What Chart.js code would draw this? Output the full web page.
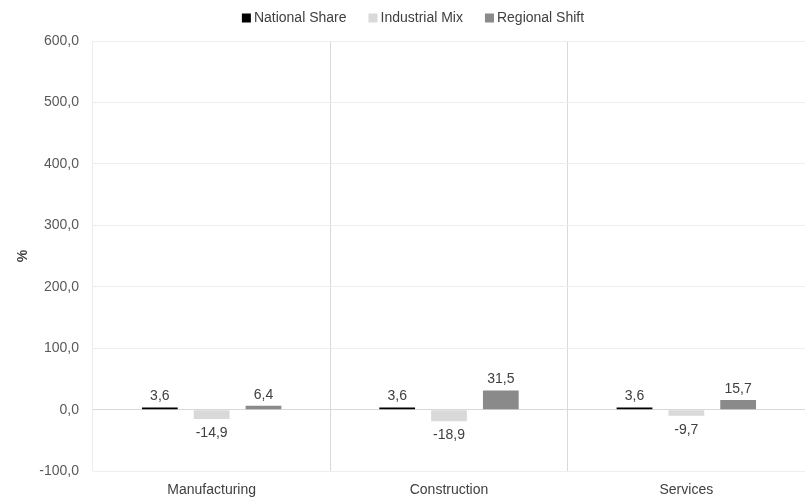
<!DOCTYPE html>
<html>
<head>
<meta charset="utf-8">
<script src="https://cdn.jsdelivr.net/npm/chart.js@4.4.1/dist/chart.umd.min.js"></script>
<style>
html,body{margin:0;padding:0;background:#fff;}
#wrap{width:805px;height:503px;position:relative;}
</style>
</head>
<body>
<div id="wrap"><canvas id="c"></canvas></div>
<script>
const categories = ["Manufacturing", "Construction", "Services"];
const nationalShare = [3.6, 3.6, 3.6];
const industrialMix = [-14.9, -18.9, -9.7];
const regionalShift = [6.4, 31.5, 15.7];
const seriesNames = ["National Share", "Industrial Mix", "Regional Shift"];
const seriesColors = ["#000000", "#d9d9d9", "#8a8a8a"];
const yMin = -100, yMax = 600, yStep = 100;

const fmt = v => v.toFixed(1).replace('.', ',');
const FONT = "Arial, 'Liberation Sans', sans-serif";

const labelPlugin = {
  id: 'barLabels',
  afterDatasetsDraw(chart) {
    const ctx = chart.ctx;
    ctx.save();
    ctx.font = "14px " + FONT;
    ctx.fillStyle = '#404040';
    ctx.textAlign = 'center';
    chart.data.datasets.forEach((ds, di) => {
      const meta = chart.getDatasetMeta(di);
      meta.data.forEach((bar, i) => {
        const v = ds.data[i];
        if (v >= 0) {
          ctx.textBaseline = 'bottom';
          ctx.fillText(fmt(v), bar.x, bar.y - 4);
        } else {
          ctx.textBaseline = 'top';
          ctx.fillText(fmt(v), bar.x, bar.y + 7);
        }
      });
    });
    ctx.restore();
  }
};

// custom legend drawn on the canvas as text
const legendPlugin = {
  id: 'customLegend',
  afterDraw(chart) {
    const ctx = chart.ctx;
    ctx.save();
    ctx.font = "14px " + FONT;
    ctx.textBaseline = 'middle';
    ctx.textAlign = 'left';
    const box = 9, gapText = 3, gapItem = 22, cy = 18;
    const widths = chart.data.datasets.map(d => ctx.measureText(d.label).width);
    let total = 0;
    widths.forEach((w, i) => { total += box + gapText + w + (i < widths.length - 1 ? gapItem : 0); });
    let x = 413 - total / 2;
    chart.data.datasets.forEach((d, i) => {
      ctx.fillStyle = d.backgroundColor;
      ctx.fillRect(x, cy - box / 2, box, box);
      ctx.fillStyle = '#404040';
      ctx.fillText(d.label, x + box + gapText, cy);
      x += box + gapText + widths[i] + gapItem;
    });
    ctx.restore();
  }
};

new Chart(document.getElementById('c'), {
  type: 'bar',
  data: {
    labels: categories,
    datasets: [
      {label: seriesNames[0], data: nationalShare, backgroundColor: seriesColors[0]},
      {label: seriesNames[1], data: industrialMix, backgroundColor: seriesColors[1]},
      {label: seriesNames[2], data: regionalShift, backgroundColor: seriesColors[2]}
    ]
  },
  options: {
    responsive: true,
    maintainAspectRatio: false,
    animation: false,
    devicePixelRatio: 1,
    categoryPercentage: 0.655,
    barPercentage: 0.69,
    layout: {padding: {left: 0, right: 0, top: 41, bottom: 0}},
    plugins: {
      legend: {display: false},
      tooltip: {enabled: false}
    },
    scales: {
      x: {
        grid: {
          offset: true,
          drawTicks: false,
          color: c => c.index === 0 ? '#ebebeb' : '#d9d9d9'
        },
        border: {display: false},
        ticks: {color: '#404040', font: {family: FONT, size: 14}, padding: 11},
        afterFit: s => { s.height = s.height - 7; }
      },
      y: {
        min: yMin, max: yMax,
        grid: {
          drawTicks: false,
          color: c => (c.tick && c.tick.value === 0) ? '#d9d9d9' : '#eeeeee'
        },
        border: {display: false},
        ticks: {
          stepSize: yStep,
          color: '#595959',
          font: {family: FONT, size: 14},
          padding: 14,
          callback: v => fmt(v)
        },
        title: {
          display: true, text: '%', color: '#404040',
          font: {family: FONT, size: 14, weight: 'bold'},
          padding: {top: 15, bottom: 14}
        },
        afterFit: s => { s.width = 93; }
      }
    }
  },
  plugins: [labelPlugin, legendPlugin]
});
</script>
</body>
</html>
